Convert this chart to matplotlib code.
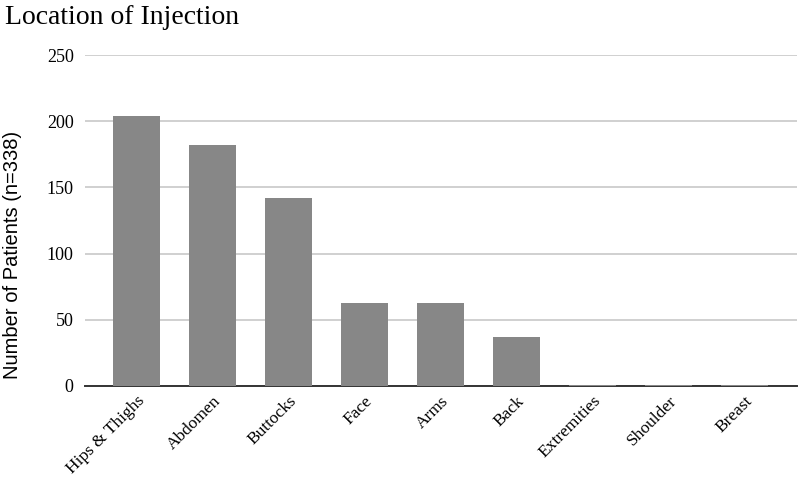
import matplotlib.pyplot as plt
import numpy as np

# data
locations = ['Hips & Thighs', 'Abdomen', 'Buttocks', 'Face', 'Arms', 'Back',
             'Extremities', 'Shoulder', 'Breast']
patients = [204, 182, 142, 63, 63, 37, 1, 1, 1]
y_ticks = [0, 50, 100, 150, 200, 250]

serif = 'Liberation Serif'
sans = 'Liberation Sans'

fig = plt.figure(figsize=(8, 4.8), dpi=100)
ax = fig.add_axes([0.106, 0.196, 0.89, 0.689])

x = np.arange(len(locations))
ax.bar(x, patients, width=0.62, color='#878787', zorder=3)

ax.set_ylim(0, 250)
ax.set_xlim(-0.678, len(locations) - 0.31)
ax.set_yticks(y_ticks)
ax.set_yticklabels([str(t) for t in y_ticks], fontfamily=serif, fontsize=13)
ax.set_xticks(x)
ax.set_xticklabels(locations, rotation=45, ha='right', rotation_mode='anchor',
                   fontfamily=serif, fontsize=12.5)
ax.tick_params(axis='both', length=0)
ax.tick_params(axis='y', pad=8)
ax.tick_params(axis='x', pad=5)

ax.grid(axis='y', color='#c8c8c8', linewidth=1.2, zorder=0)
for s in ['top', 'right', 'left']:
    ax.spines[s].set_visible(False)
ax.spines['bottom'].set_color('#333333')
ax.spines['bottom'].set_linewidth(1.4)
ax.spines['bottom'].set_zorder(2)

fig.text(0.016, 1 - 255 / 480, 'Number of Patients (n=338)', fontfamily=sans,
         fontsize=14.5, rotation=90, va='center', ha='center')

fig.text(0.006, 1 - 17 / 480, 'Location of Injection', fontfamily=serif, fontsize=20,
         va='center', ha='left')

fig.savefig('out.png', dpi=100)
